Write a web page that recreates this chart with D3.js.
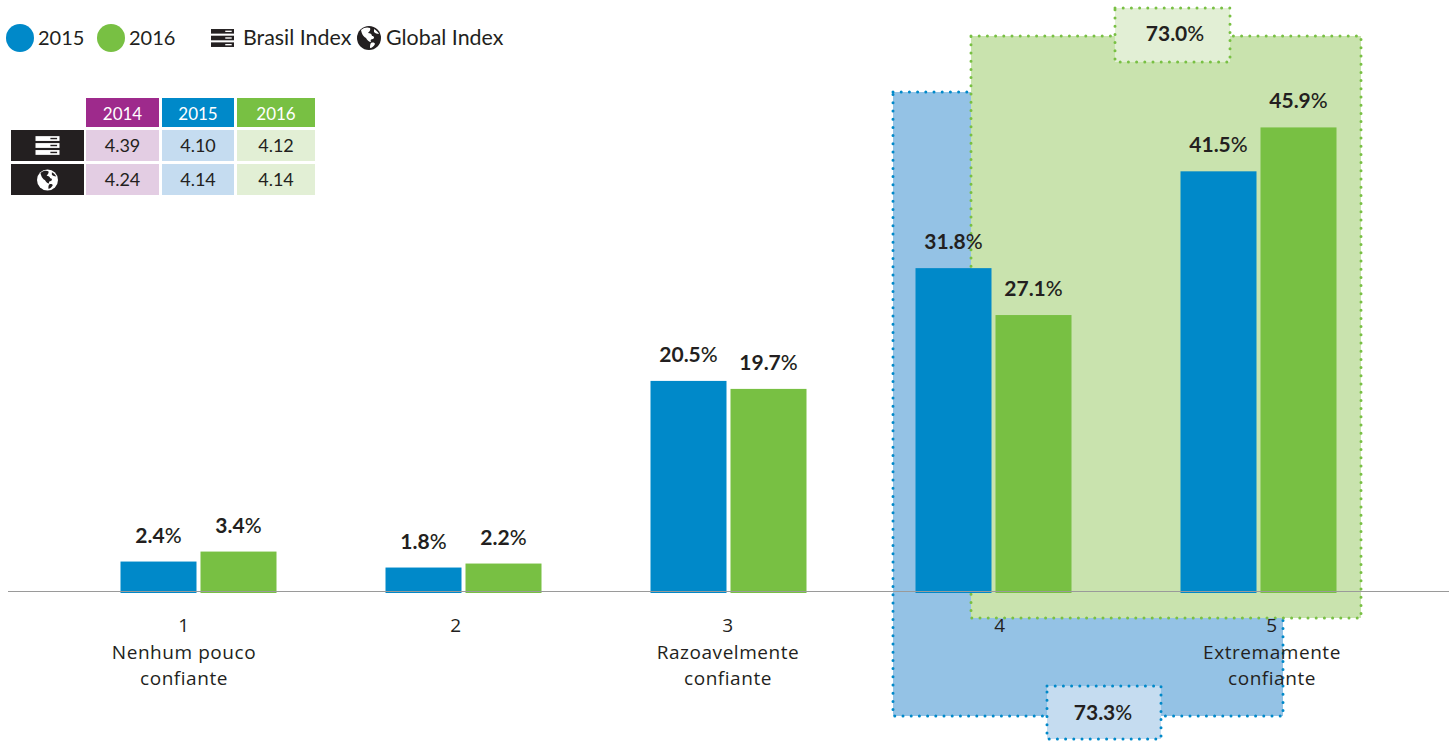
<!DOCTYPE html>
<html><head><meta charset="utf-8">
<script src="https://cdn.jsdelivr.net/npm/d3@7"></script>
<style>html,body{margin:0;padding:0;background:#fff}svg{display:block}</style>
</head><body><svg id="c" width="1456" height="741"></svg>
<script>
const categories = ["1","2","3","4","5"];
const categoryNames = [["Nenhum pouco","confiante"],[],["Razoavelmente","confiante"],[],["Extremamente","confiante"]];
const years = ["2015","2016"];
const values2015 = [2.4,1.8,20.5,31.8,41.5];
const values2016 = [3.4,2.2,19.7,27.1,45.9];
const tableYears = ["2014","2015","2016"];
const brasilIndex = ["4.39","4.10","4.12"];
const globalIndex = ["4.24","4.14","4.14"];
const top2Box = ["73.3","73.0"];

const BLUE="#0089c9",GREEN="#78c043",PURPLE="#9e2a8c",DARK="#231f20";
const LBLUE="#94c2e5",LGREEN="#c9e3ae",CBLUE="#c5dcf0",CGREEN="#e2efd5",LPURPLE="#e3cde3";
const LABEL="Lato, sans-serif", CAT="'Open Sans', sans-serif";
const svg=d3.select("#c");
const baseY=593;
const y=d3.scaleLinear().domain([0,50]).range([585.5,86.5]);
const x0=d3.scaleBand().domain(categories).range([66,1391]).paddingInner(0).paddingOuter(0);
const x1=d3.scaleBand().domain(years).range([0,156]).paddingInner(0.05);
const xTick=d3.scalePoint().domain(categories).range([184,1272]);
const color=d3.scaleOrdinal().domain(years).range([BLUE,GREEN]);

function pct(sel,txt){
  sel.append("tspan").attr("font-weight",700).text(txt);
  sel.append("tspan").attr("font-weight",500).text("%");
}
function box(x,yy,w,h,fill,stroke){
  svg.append("rect").attr("x",x).attr("y",yy).attr("width",w).attr("height",h).attr("fill",fill);
  svg.append("rect").attr("x",x).attr("y",yy).attr("width",w).attr("height",h).attr("fill","none")
    .attr("stroke",stroke).attr("stroke-width",3).attr("stroke-linecap","round").attr("stroke-dasharray","0 8.2");
}
box(893,92,390,624,LBLUE,BLUE);
box(971,36,390,582,LGREEN,GREEN);
box(1047,686,114,53,CBLUE,BLUE);
box(1115,8,115,54,CGREEN,GREEN);
pct(svg.append("text").attr("x",1103).attr("y",720).attr("text-anchor","middle").attr("font-family",LABEL).attr("font-size",21).attr("fill",DARK),top2Box[0]);
pct(svg.append("text").attr("x",1175).attr("y",41).attr("text-anchor","middle").attr("font-family",LABEL).attr("font-size",21).attr("fill",DARK),top2Box[1]);

const rows=categories.flatMap((c,i)=>[{c,s:"2015",v:values2015[i]},{c,s:"2016",v:values2016[i]}]);
const pad=(x0.bandwidth()-156)/2;
svg.selectAll("rect.bar").data(rows).join("rect").attr("class","bar")
  .attr("x",d=>x0(d.c)+pad+x1(d.s)).attr("width",x1.bandwidth())
  .attr("y",d=>y(d.v)).attr("height",d=>baseY-y(d.v)).attr("fill",d=>color(d.s));
svg.selectAll("text.val").data(rows).join("text").attr("class","val")
  .attr("x",d=>x0(d.c)+pad+x1(d.s)+x1.bandwidth()/2).attr("y",d=>y(d.v)-19)
  .attr("text-anchor","middle").attr("font-family",LABEL).attr("font-size",21).attr("fill",DARK)
  .each(function(d){pct(d3.select(this),d.v.toFixed(1));});

svg.append("line").attr("x1",8).attr("x2",1449).attr("y1",591.5).attr("y2",591.5).attr("stroke","#9a9a9a").attr("stroke-width",1.2);

categories.forEach((c,i)=>{
  const t=svg.append("text").attr("text-anchor","middle").attr("font-family",CAT).attr("font-size",19).attr("fill",DARK).attr("letter-spacing",0.55);
  t.append("tspan").attr("x",xTick(c)).attr("y",632).text(c);
  categoryNames[i].forEach((n,j)=>t.append("tspan").attr("x",xTick(c)).attr("y",659+j*26).text(n));
});

function server(g,cx,cy,w,fg,bg){
  const h=w*0.2;
  [-1,0,1].forEach(k=>{
    g.append("rect").attr("x",cx-w/2).attr("y",cy+k*(h+w*0.09)-h/2).attr("width",w).attr("height",h).attr("fill",fg);
    g.append("rect").attr("x",cx+w*0.12).attr("y",cy+k*(h+w*0.09)-h*0.15).attr("width",w*0.28).attr("height",h*0.3).attr("fill",bg);
  });
}
function globe(g,cx,cy,r,fg,bg){
  g.append("circle").attr("cx",cx).attr("cy",cy).attr("r",r).attr("fill",fg);
  const p=g.append("g").attr("transform",`translate(${cx},${cy}) scale(${r/12})`).attr("fill",bg);
  p.append("path").attr("d","M-8,-8 C-5,-11 -1,-11 1,-10 C2,-8 0,-6 -1,-5 C1,-5 3,-4 3,-2 C5,-2 6,0 4,1 C2,1 1,2 2,4 C0,4 -2,2 -3,0 C-5,-1 -7,-3 -8,-8Z");
  p.append("path").attr("d","M2,5 C4,4 6,5 6,6 C5,8 3,10 1,10 C1,8 1,6 2,5Z");
  p.append("path").attr("d","M5,-9 C7,-8 9,-6 10,-4 C8,-4 6,-5 5,-6Z");
}

// legend
[[20,"2015",BLUE,38],[111,"2016",GREEN,129]].forEach(([cx,t,col,tx])=>{
  svg.append("circle").attr("cx",cx).attr("cy",38).attr("r",14).attr("fill",col);
  svg.append("text").attr("x",tx).attr("y",45).attr("font-family",LABEL).attr("font-size",20).attr("fill",DARK).text(t);
});
server(svg,222.5,38,23,DARK,"#fff");
svg.append("text").attr("x",243).attr("y",45).attr("font-family",LABEL).attr("font-size",21.4).attr("fill",DARK).text("Brasil Index");
globe(svg,369,38,12,DARK,"#fff");
svg.append("text").attr("x",386).attr("y",45).attr("font-family",LABEL).attr("font-size",21.4).attr("fill",DARK).text("Global Index");

// table
const colX=[86,162,237], colW=[73,72,78];
const hdr=[PURPLE,BLUE,GREEN], lite=[LPURPLE,CBLUE,CGREEN];
tableYears.forEach((t,i)=>{
  svg.append("rect").attr("x",colX[i]).attr("y",98).attr("width",colW[i]).attr("height",29).attr("fill",hdr[i]);
  svg.append("text").attr("x",colX[i]+colW[i]/2).attr("y",120).attr("text-anchor","middle").attr("font-family",LABEL).attr("font-size",17).attr("fill","#fff").text(t);
});
[[brasilIndex,130],[globalIndex,164]].forEach(([vals,ry])=>{
  svg.append("rect").attr("x",11).attr("y",ry).attr("width",73).attr("height",31).attr("fill",DARK);
  vals.forEach((v,i)=>{
    svg.append("rect").attr("x",colX[i]).attr("y",ry).attr("width",colW[i]).attr("height",31).attr("fill",lite[i]);
    svg.append("text").attr("x",colX[i]+colW[i]/2).attr("y",ry+22).attr("text-anchor","middle").attr("font-family",LABEL).attr("font-size",18).attr("fill",DARK).text(v);
  });
});
server(svg,47.5,145.5,24,"#fff",DARK);
globe(svg,47.5,180,10.5,"#fff",DARK);
</script></body></html>
